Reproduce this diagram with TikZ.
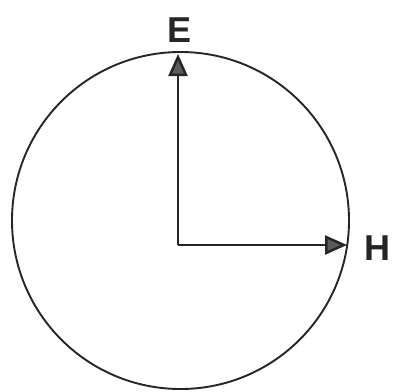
\documentclass[tikz,border=0pt]{standalone}
\usepackage{fontspec}
\setmainfont{Liberation Sans}
\usetikzlibrary{arrows.meta}
\definecolor{ink}{HTML}{262626}
\tikzset{
  vec/.style={draw=ink, line width=2.5pt, -{Triangle[length=22pt,width=19pt,fill=ink!75]}},
  lbl/.style={inner sep=0pt, text=ink, font=\bfseries\fontsize{36}{36}\selectfont},
  ring/.style={circle, draw=ink, line width=1.9pt, minimum size=337pt, inner sep=0pt}
}
\begin{document}
\begin{tikzpicture}[x=1pt,y=-1pt]
\useasboundingbox (0,0) rectangle (395,391);
\node[ring] (c) at (180.5,220.5) {};
\coordinate (O) at (178,245);
\coordinate (Etip) at (178,54);
\coordinate (Htip) at (347,245);
\draw[vec] (O) -- (Etip);
\draw[vec] (O) -- (Htip);
\node[lbl] (E) at (180,30) {E};
\node[lbl] (H) at (377,248) {H};
\end{tikzpicture}
\end{document}
